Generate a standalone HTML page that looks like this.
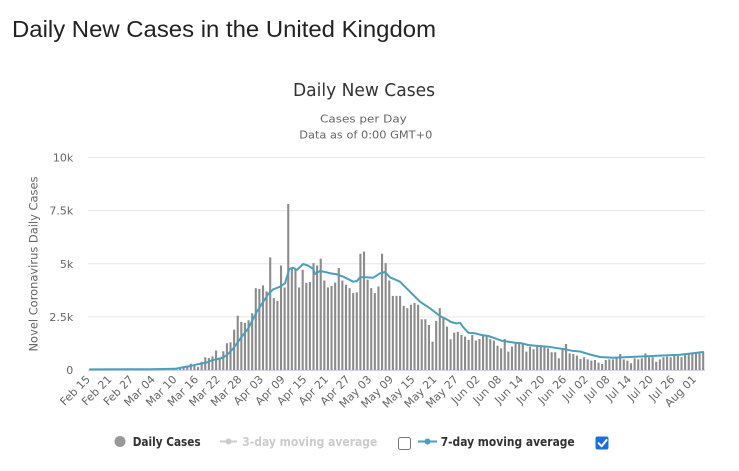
<!DOCTYPE html>
<html><head><meta charset="utf-8"><style>
html,body{margin:0;padding:0;background:#fff;width:739px;height:471px;overflow:hidden}
svg{display:block}
</style></head><body>
<svg width="739" height="471" viewBox="0 0 739 471" xmlns="http://www.w3.org/2000/svg">
<rect width="739" height="471" fill="#fff"/>
<text x="12" y="37" font-family="Liberation Sans, Arial, sans-serif" font-size="23" fill="#222" textLength="424" lengthAdjust="spacingAndGlyphs">Daily New Cases in the United Kingdom</text>

<text x="364" y="96" text-anchor="middle" font-family="DejaVu Sans, sans-serif" font-size="17.5" fill="#333" textLength="142" lengthAdjust="spacingAndGlyphs">Daily New Cases</text>
<text x="363.4" y="122.7" text-anchor="middle" font-family="DejaVu Sans, sans-serif" font-size="11" fill="#666" textLength="86.7" lengthAdjust="spacingAndGlyphs">Cases per Day</text>
<text x="365.8" y="138.3" text-anchor="middle" font-family="DejaVu Sans, sans-serif" font-size="11" fill="#666" textLength="133" lengthAdjust="spacingAndGlyphs">Data as of 0:00 GMT+0</text>

<g stroke="#e6e6e6" stroke-width="1">
<line x1="88" y1="157.5" x2="705" y2="157.5"/>
<line x1="88" y1="210.6" x2="705" y2="210.6"/>
<line x1="88" y1="263.8" x2="705" y2="263.8"/>
<line x1="88" y1="316.9" x2="705" y2="316.9"/>
<line x1="88" y1="370" x2="705" y2="370"/>
</g>

<g font-family="DejaVu Sans, sans-serif" font-size="11" fill="#666" text-anchor="end">
<text x="73.3" y="161.5">10k</text>
<text x="73.3" y="214.6">7.5k</text>
<text x="73.3" y="267.8">5k</text>
<text x="73.3" y="320.9">2.5k</text>
<text x="73.3" y="374">0</text>
</g>

<text transform="translate(37.5,264) rotate(-90)" text-anchor="middle" font-family="DejaVu Sans, sans-serif" font-size="11.5" fill="#666" textLength="175" lengthAdjust="spacingAndGlyphs">Novel Coronavirus Daily Cases</text>

<g transform="translate(89.804,370) scale(3.608,-0.02125)">
<path fill="none" stroke="#8c8c8c" stroke-width="2.1" vector-effect="non-scaling-stroke" d="M9 0V4M13 0V3M14 0V6M15 0V12M16 0V4M17 0V11M18 0V34M19 0V29M20 0V48M21 0V43M22 0V67M23 0V46M24 0V60M25 0V74M26 0V130M27 0V200M28 0V300M29 0V230M30 0V150M31 0V390M32 0V600M33 0V560M34 0V640M35 0V920M36 0V590M37 0V880M38 0V1260M39 0V1300M40 0V1900M41 0V2560M42 0V2260M43 0V2220M44 0V2340M45 0V2670M46 0V3850M47 0V3820M48 0V3980M49 0V3700M50 0V5300M51 0V3380M52 0V3250M53 0V4920M54 0V3880M55 0V7810M56 0V4800M57 0V4720M58 0V3880M59 0V4720M60 0V4100M61 0V4140M62 0V5030M63 0V4920M64 0V5240M65 0V4210M66 0V3880M67 0V3960M68 0V4120M69 0V4800M70 0V4210M71 0V4010M72 0V3850M73 0V3620M74 0V3650M75 0V5470M76 0V5570M77 0V4250M78 0V3850M79 0V3620M80 0V3930M81 0V5470M82 0V5030M83 0V4210M84 0V3490M85 0V3490M86 0V3490M87 0V3020M88 0V2910M89 0V3070M90 0V3150M91 0V3070M92 0V2390M93 0V2390M94 0V2120M95 0V1330M96 0V2310M97 0V2910M98 0V2490M99 0V2040M100 0V1450M101 0V1760M102 0V1800M103 0V1650M104 0V1570M105 0V1415M106 0V1650M107 0V1380M108 0V1460M109 0V1600M110 0V1600M111 0V1450M112 0V1380M113 0V1150M114 0V1020M115 0V1460M116 0V865M117 0V1100M118 0V1260M119 0V1260M120 0V1260M121 0V865M122 0V1100M123 0V975M124 0V1130M125 0V1165M126 0V1100M127 0V1020M128 0V835M129 0V835M130 0V550M131 0V1020M132 0V1225M133 0V785M134 0V755M135 0V675M136 0V520M137 0V600M138 0V500M139 0V440M140 0V470M141 0V345M142 0V280M143 0V470M144 0V500M145 0V500M146 0V550M147 0V755M148 0V500M149 0V440M150 0V315M151 0V550M152 0V500M153 0V550M154 0V785M155 0V600M156 0V600M157 0V390M158 0V500M159 0V600M160 0V630M161 0V600M162 0V660M163 0V660M164 0V600M165 0V705M166 0V785M167 0V815M168 0V785M169 0V780M170 0V865"/>
</g>

<line x1="88" y1="370.5" x2="705" y2="370.5" stroke="#ccd6eb" stroke-width="1"/>

<polyline fill="none" stroke="#4a9fbd" stroke-width="2" stroke-linejoin="round" stroke-linecap="round" points="90,369.4 150,369.2 175,368.8 185,366.9 190,366.2 198,364.2 206.7,362.5 212,360.3 218,359 223.3,357.5 228,354 233.3,348.3 240,339 248.3,328.3 256.7,312 263.3,301.7 268.3,294 273.3,289.3 280,286.7 285,283.3 289.3,269 293.3,267.7 296.7,270 300,267 303.3,264 308.3,265.7 313.3,269 315,274 320,271 326.7,272.3 330,273.3 336.7,274.3 343.3,276.7 353.3,281.7 357,281 360,277.3 366,277.3 373.3,277.7 380,273.3 385,272 390,277.3 400,281.7 410,291.7 420,301.7 430,308.3 440,316 446.7,319.3 451,322 456.7,323.5 460,322.7 463.3,327.3 468.3,332.7 475,333.3 481.7,335 488.3,336 495,338.3 501.7,340.7 508.3,341.7 515,342.7 521.7,343.3 528.3,345 538.3,346 548.3,346.7 558.3,348.3 565,349.3 571.7,350.7 580,351.5 590,354.5 600,357 613,357.8 630,357 646.7,356.2 663,355.5 680,354.7 693,353.3 703,352"/>

<g font-family="DejaVu Sans, sans-serif" font-size="11" fill="#666" text-anchor="end">
<text transform="translate(90.8,380) rotate(-45)">Feb 15</text>
<text transform="translate(112.4,380) rotate(-45)">Feb 21</text>
<text transform="translate(134.1,380) rotate(-45)">Feb 27</text>
<text transform="translate(155.7,380) rotate(-45)">Mar 04</text>
<text transform="translate(177.4,380) rotate(-45)">Mar 10</text>
<text transform="translate(199.0,380) rotate(-45)">Mar 16</text>
<text transform="translate(220.7,380) rotate(-45)">Mar 22</text>
<text transform="translate(242.3,380) rotate(-45)">Mar 28</text>
<text transform="translate(264.0,380) rotate(-45)">Apr 03</text>
<text transform="translate(285.6,380) rotate(-45)">Apr 09</text>
<text transform="translate(307.3,380) rotate(-45)">Apr 15</text>
<text transform="translate(328.9,380) rotate(-45)">Apr 21</text>
<text transform="translate(350.6,380) rotate(-45)">Apr 27</text>
<text transform="translate(372.2,380) rotate(-45)">May 03</text>
<text transform="translate(393.9,380) rotate(-45)">May 09</text>
<text transform="translate(415.5,380) rotate(-45)">May 15</text>
<text transform="translate(437.2,380) rotate(-45)">May 21</text>
<text transform="translate(458.8,380) rotate(-45)">May 27</text>
<text transform="translate(480.5,380) rotate(-45)">Jun 02</text>
<text transform="translate(502.1,380) rotate(-45)">Jun 08</text>
<text transform="translate(523.8,380) rotate(-45)">Jun 14</text>
<text transform="translate(545.4,380) rotate(-45)">Jun 20</text>
<text transform="translate(567.1,380) rotate(-45)">Jun 26</text>
<text transform="translate(588.7,380) rotate(-45)">Jul 02</text>
<text transform="translate(610.4,380) rotate(-45)">Jul 08</text>
<text transform="translate(632.0,380) rotate(-45)">Jul 14</text>
<text transform="translate(653.7,380) rotate(-45)">Jul 20</text>
<text transform="translate(675.3,380) rotate(-45)">Jul 26</text>
<text transform="translate(696.9,380) rotate(-45)">Aug 01</text>
</g>

<!-- Legend -->
<circle cx="120" cy="441.5" r="5.5" fill="#999"/>
<text x="132.7" y="446" font-family="DejaVu Sans, sans-serif" font-weight="bold" font-size="12" fill="#333" textLength="68" lengthAdjust="spacingAndGlyphs">Daily Cases</text>

<line x1="220" y1="441.5" x2="237" y2="441.5" stroke="#ccc" stroke-width="2"/>
<circle cx="228.5" cy="441.5" r="3" fill="#ccc"/>
<text x="242.3" y="446" font-family="DejaVu Sans, sans-serif" font-weight="bold" font-size="12" fill="#ccc" textLength="135" lengthAdjust="spacingAndGlyphs">3-day moving average</text>
<rect x="398.5" y="437.5" width="12" height="12" rx="2" fill="#fff" stroke="#767676" stroke-width="1"/>

<line x1="418" y1="441.5" x2="437" y2="441.5" stroke="#4a9fbd" stroke-width="2"/>
<circle cx="427.5" cy="441.5" r="3" fill="#4a9fbd"/>
<text x="440.7" y="446" font-family="DejaVu Sans, sans-serif" font-weight="bold" font-size="12" fill="#333" textLength="134" lengthAdjust="spacingAndGlyphs">7-day moving average</text>
<rect x="595.5" y="436.5" width="13" height="13" rx="2" fill="#1c6fdb"/>
<path d="M598.6 443.2 L601.6 446.2 L606.6 440" fill="none" stroke="#fff" stroke-width="2" stroke-linecap="round" stroke-linejoin="round"/>
</svg>
</body></html>
